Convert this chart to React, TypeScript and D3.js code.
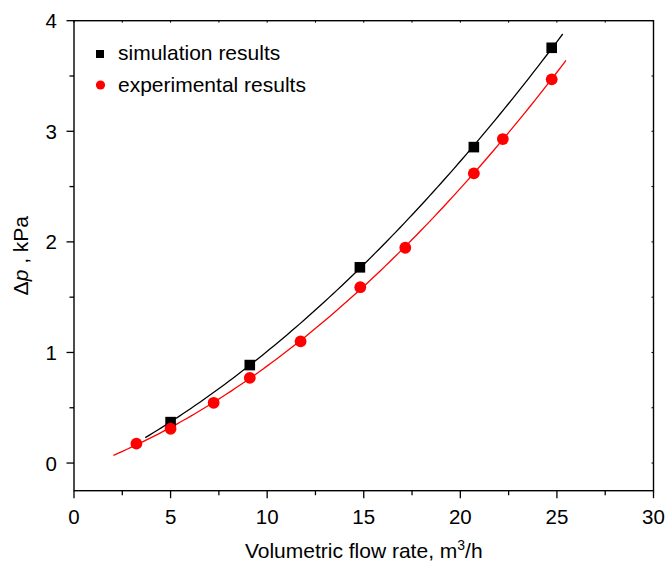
import React from "react";
import * as d3 from "d3";

const simFlow = [5.0, 9.1, 14.8, 20.7, 24.73];
const simDp = [0.37, 0.886, 1.77, 2.857, 3.755];
const expFlow = [3.23, 5.0, 7.23, 9.1, 11.73, 14.82, 17.15, 20.7, 22.2, 24.73];
const expDp = [0.175, 0.31, 0.545, 0.77, 1.1, 1.59, 1.947, 2.62, 2.93, 3.47];
const simFitRange = [3.69, 25.3];
const expFitRange = [2.04, 25.47];
const xTicks = [0, 5, 10, 15, 20, 25, 30];
const yTicks = [0, 1, 2, 3, 4];
const legendLabels = ["simulation results", "experimental results"];

const W = 667;
const H = 561;
const margin = { left: 74, right: 13.5, top: 20.7, bottom: 70.3 };

// least squares 2nd order polynomial
function quadFit(xs: number[], ys: number[]) {
  const n = xs.length;
  let s1 = 0, s2 = 0, s3 = 0, s4 = 0, t0 = 0, t1 = 0, t2 = 0;
  for (let i = 0; i < n; i++) {
    const x = xs[i], y = ys[i];
    s1 += x; s2 += x * x; s3 += x * x * x; s4 += x * x * x * x;
    t0 += y; t1 += x * y; t2 += x * x * y;
  }
  const m = [
    [n, s1, s2, t0],
    [s1, s2, s3, t1],
    [s2, s3, s4, t2],
  ];
  for (let c = 0; c < 3; c++) {
    for (let r = c + 1; r < 3; r++) {
      const f = m[r][c] / m[c][c];
      for (let k = c; k < 4; k++) m[r][k] -= f * m[c][k];
    }
  }
  const coef = [0, 0, 0];
  for (let r = 2; r >= 0; r--) {
    let s = m[r][3];
    for (let k = r + 1; k < 3; k++) s -= m[r][k] * coef[k];
    coef[r] = s / m[r][r];
  }
  return (x: number) => coef[0] + coef[1] * x + coef[2] * x * x;
}

const font = "Arial, 'Liberation Sans', sans-serif";

export default function App() {
  const x = d3.scaleLinear().domain([0, 30]).range([margin.left, W - margin.right]);
  const y = d3.scaleLinear().domain([-0.25, 4]).range([H - margin.bottom, margin.top]);
  const x0 = x.range()[0], x1 = x.range()[1];
  const y0 = y.range()[0], y1 = y.range()[1];

  const xMinor = d3.range(0, 30.01, 2.5);
  const yMinor = d3.range(0, 4.01, 0.5);

  const line = d3
    .line<[number, number]>()
    .x((d) => x(d[0]))
    .y((d) => y(d[1]));

  const fitPath = (xs: number[], ys: number[], range: number[]) => {
    const f = quadFit(xs, ys);
    const pts: [number, number][] = d3
      .range(0, 101)
      .map((i) => {
        const v = range[0] + ((range[1] - range[0]) * i) / 100;
        return [v, f(v)];
      });
    return line(pts) || "";
  };

  return (
    <svg width={W} height={H} style={{ position: "absolute", left: 0, top: 0 }}>
      <rect width={W} height={H} fill="#fff" />
      {/* fit curves */}
      <path d={fitPath(simFlow, simDp, simFitRange)} fill="none" stroke="#000" strokeWidth={1.3} />
      <path d={fitPath(expFlow, expDp, expFitRange)} fill="none" stroke="#ff0000" strokeWidth={1.3} />

      {/* markers */}
      {simFlow.map((v, i) => (
        <rect key={"s" + i} x={x(v) - 5.3} y={y(simDp[i]) - 5.3} width={10.6} height={10.6} fill="#000" />
      ))}
      {expFlow.map((v, i) => (
        <circle key={"e" + i} cx={x(v)} cy={y(expDp[i])} r={5.9} fill="#ff0000" />
      ))}

      {/* frame */}
      <rect x={x0} y={y1} width={x1 - x0} height={y0 - y1} fill="none" stroke="#000" strokeWidth={1.4} />

      {/* ticks */}
      {xMinor.map((v) => {
        const major = v % 5 === 0;
        return (
          <g key={"xt" + v}>
            <line x1={x(v)} x2={x(v)} y1={y0} y2={y0 + (major ? 7.5 : 4.5)} stroke="#000" strokeWidth={1.3} />
            <line x1={x(v)} x2={x(v)} y1={y1} y2={y1 + 2} stroke="#000" strokeWidth={1} />
          </g>
        );
      })}
      {yMinor.map((v) => {
        const major = v % 1 === 0;
        return (
          <g key={"yt" + v}>
            <line x1={x0} x2={x0 - (major ? 7.5 : 4.5)} y1={y(v)} y2={y(v)} stroke="#000" strokeWidth={1.3} />
            <line x1={x1} x2={x1 - 2} y1={y(v)} y2={y(v)} stroke="#000" strokeWidth={1} />
          </g>
        );
      })}

      {/* tick labels */}
      {xTicks.map((v) => (
        <text key={"xl" + v} x={x(v)} y={y0 + 33.5} textAnchor="middle" fontFamily={font} fontSize={20.5} fill="#000">
          {v}
        </text>
      ))}
      {yTicks.map((v) => (
        <text key={"yl" + v} x={x0 - 17} y={y(v) + 7.5} textAnchor="end" fontFamily={font} fontSize={20.5} fill="#000">
          {v}
        </text>
      ))}

      {/* axis titles */}
      <text x={(x0 + x1) / 2} y={H - 3} textAnchor="middle" fontFamily={font} fontSize={21} fill="#000">
        Volumetric flow rate, m<tspan dy={-8} fontSize={14}>3</tspan>
        <tspan dy={8}>/h</tspan>
      </text>
      <text
        transform={`translate(28,${(y0 + y1) / 2}) rotate(-90)`}
        textAnchor="middle"
        fontFamily={font}
        fontSize={21}
        fill="#000"
      >
        Δ<tspan fontStyle="italic">p</tspan> , kPa
      </text>

      {/* legend */}
      <rect x={96} y={50} width={8} height={8} fill="#000" />
      <circle cx={100.5} cy={85} r={4.6} fill="#ff0000" />
      <text x={118} y={60} fontFamily={font} fontSize={21} fill="#000">
        {legendLabels[0]}
      </text>
      <text x={118} y={91.5} fontFamily={font} fontSize={21} fill="#000">
        {legendLabels[1]}
      </text>
    </svg>
  );
}
